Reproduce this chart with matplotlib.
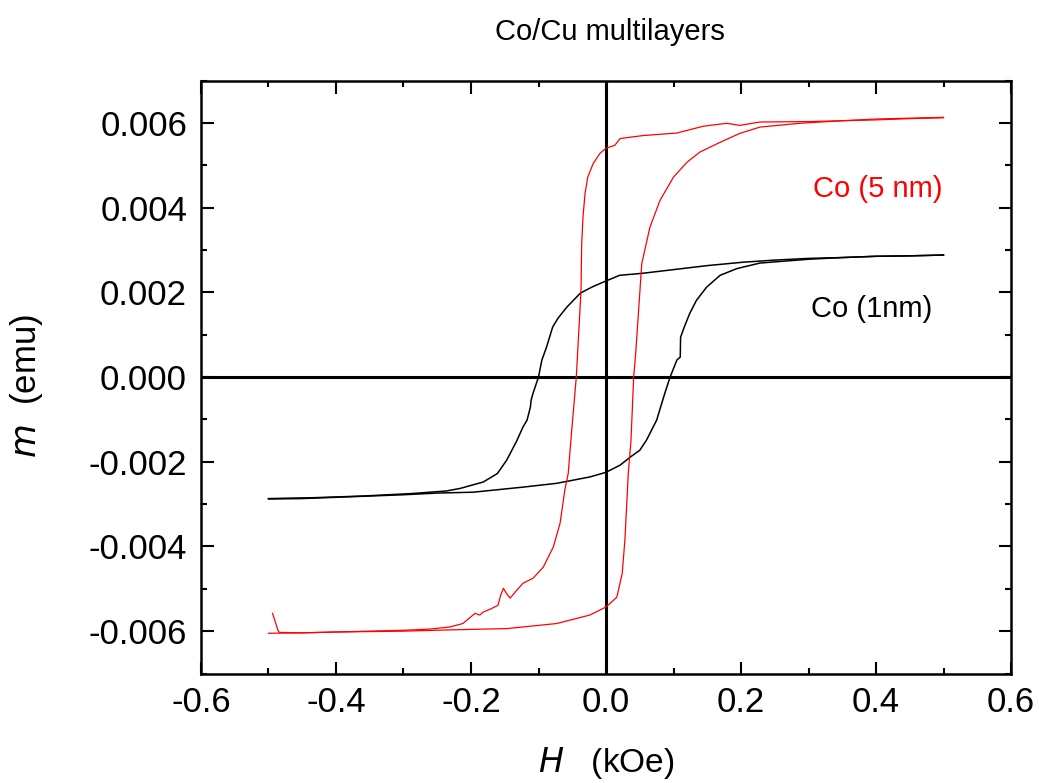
import matplotlib
matplotlib.use("Agg")
import matplotlib.pyplot as plt
from matplotlib.ticker import MultipleLocator, FormatStrFormatter
import numpy as np

plt.rcParams['font.family'] = ['Liberation Sans', 'DejaVu Sans']

# Co (5 nm) – descending branch (H from +0.5 to -0.5), m in 1e-3 emu
red_desc_H = [0.50, 0.45, 0.40, 0.35, 0.30, 0.228, 0.198, 0.179, 0.144, 0.105, 0.055, 0.021,
              0.013, 0.0, -0.009, -0.019, -0.027, -0.031, -0.034, -0.036, -0.037, -0.044,
              -0.051, -0.056, -0.061, -0.068, -0.078, -0.093, -0.108, -0.123, -0.132, -0.142,
              -0.147, -0.152, -0.156, -0.160, -0.170, -0.182, -0.187, -0.194, -0.200, -0.212,
              -0.231, -0.26, -0.30, -0.35, -0.40, -0.45, -0.50]
red_desc_m = [6.13, 6.11, 6.09, 6.05, 6.03, 6.02, 5.94, 5.99, 5.92, 5.76, 5.70, 5.63,
              5.47, 5.40, 5.28, 5.04, 4.72, 4.34, 3.80, 3.15, 2.05, 0.0,
              -1.3, -2.28, -2.67, -3.45, -4.01, -4.49, -4.75, -4.87, -5.03, -5.22,
              -5.12, -4.99, -5.15, -5.39, -5.47, -5.55, -5.62, -5.58, -5.66, -5.82,
              -5.90, -5.95, -5.98, -6.00, -6.02, -6.04, -6.05]

# Co (5 nm) – ascending branch
red_asc_H = [-0.494, -0.49, -0.486, -0.484, -0.45, -0.40, -0.30, -0.231, -0.147, -0.073,
             -0.024, 0.0, 0.016, 0.024, 0.028, 0.033, 0.037, 0.041, 0.044, 0.048, 0.053,
             0.065, 0.08, 0.10, 0.12, 0.139, 0.169, 0.198, 0.228, 0.287, 0.35, 0.40, 0.45, 0.50]
red_asc_m = [-5.58, -5.78, -5.98, -6.03, -6.04, -6.02, -6.00, -5.97, -5.94, -5.82,
             -5.62, -5.43, -5.20, -4.64, -3.85, -2.28, -1.5, 0.0, 0.56, 1.5, 2.68,
             3.53, 4.17, 4.72, 5.07, 5.31, 5.54, 5.75, 5.90, 5.99, 6.05, 6.07, 6.10, 6.12]

# Co (1nm) – descending branch
blk_desc_H = [0.50, 0.45, 0.40, 0.35, 0.30, 0.25, 0.203, 0.15, 0.129, 0.055, 0.02, -0.004,
              -0.02, -0.038, -0.058, -0.071, -0.079, -0.088, -0.095, -0.100, -0.108, -0.111,
              -0.112, -0.117, -0.123, -0.132, -0.147, -0.161, -0.182, -0.216, -0.236, -0.286,
              -0.36, -0.434, -0.50]
blk_desc_m = [2.88, 2.86, 2.85, 2.82, 2.80, 2.76, 2.71, 2.63, 2.59, 2.45, 2.40, 2.24,
              2.13, 1.98, 1.65, 1.39, 1.18, 0.71, 0.40, 0.0, -0.38, -0.55,
              -0.71, -1.02, -1.18, -1.50, -1.96, -2.28, -2.48, -2.63, -2.69, -2.75,
              -2.81, -2.85, -2.87]

# Co (1nm) – ascending branch
blk_asc_H = [-0.50, -0.45, -0.40, -0.35, -0.30, -0.25, -0.197, -0.123, -0.073, -0.024, 0.0,
             0.021, 0.036, 0.05, 0.06, 0.075, 0.087, 0.095, 0.105, 0.110, 0.1105, 0.116,
             0.124, 0.134, 0.149, 0.169, 0.194, 0.228, 0.30, 0.35, 0.40, 0.45, 0.50]
blk_asc_m = [-2.88, -2.87, -2.84, -2.81, -2.78, -2.74, -2.72, -2.60, -2.51, -2.36, -2.25,
             -2.08, -1.89, -1.73, -1.49, -1.02, -0.39, 0.0, 0.40, 0.47, 0.94, 1.18,
             1.50, 1.81, 2.12, 2.40, 2.56, 2.69, 2.78, 2.82, 2.85, 2.86, 2.88]

x_ticks = [-0.6, -0.4, -0.2, 0.0, 0.2, 0.4, 0.6]
y_ticks = [-0.006, -0.004, -0.002, 0.0, 0.002, 0.004, 0.006]

fig = plt.figure(figsize=(10.39, 7.83), dpi=100)
ax = fig.add_axes([201/1039, 1 - 673.5/783, 810/1039, 593/783])

sc = 1e-3
ax.axhline(0, color='black', lw=2.2, zorder=1)
ax.axvline(0, color='black', lw=2.2, zorder=1)
ax.plot(blk_desc_H, np.array(blk_desc_m) * sc, color='black', lw=1.1, zorder=2)
ax.plot(blk_asc_H, np.array(blk_asc_m) * sc, color='black', lw=1.1, zorder=2)
ax.plot(red_desc_H, np.array(red_desc_m) * sc, color='red', lw=0.9, zorder=3)
ax.plot(red_asc_H, np.array(red_asc_m) * sc, color='red', lw=0.9, zorder=3)

ax.set_xlim(-0.6, 0.6)
ax.set_ylim(-0.007, 0.007)
ax.set_xticks(x_ticks)
ax.set_yticks(y_ticks)
ax.xaxis.set_minor_locator(MultipleLocator(0.1))
ax.yaxis.set_minor_locator(MultipleLocator(0.001))
ax.xaxis.set_major_formatter(FormatStrFormatter('%.1f'))
ax.yaxis.set_major_formatter(FormatStrFormatter('%.3f'))
ax.tick_params(which='both', direction='in', top=True, right=True, width=1.5)
ax.tick_params(which='major', length=9, labelsize=25)
ax.tick_params(which='minor', length=4.5)
ax.tick_params(axis='y', pad=10)
ax.tick_params(axis='x', pad=9)
for s in ax.spines.values():
    s.set_linewidth(1.8)

ax.set_xlabel(r'$\it{H}$   (kOe)', fontsize=24, va='top')
ax.xaxis.set_label_coords(0.5, -0.12)
ax.set_ylabel(r'$\it{m}$  (emu)', fontsize=25)
ax.yaxis.set_label_coords(-0.193, 0.485)

ax.text(0.499, 0.00443, 'Co (5 nm)', color='red', fontsize=21, ha='right', va='center')
ax.text(0.484, 0.0016, 'Co (1nm)', color='black', fontsize=21, ha='right', va='center')

fig.text(609.5/1039, 1 - 32/783, 'Co/Cu multilayers', fontsize=21, ha='center', va='center')

fig.savefig('out.png', dpi=100)
